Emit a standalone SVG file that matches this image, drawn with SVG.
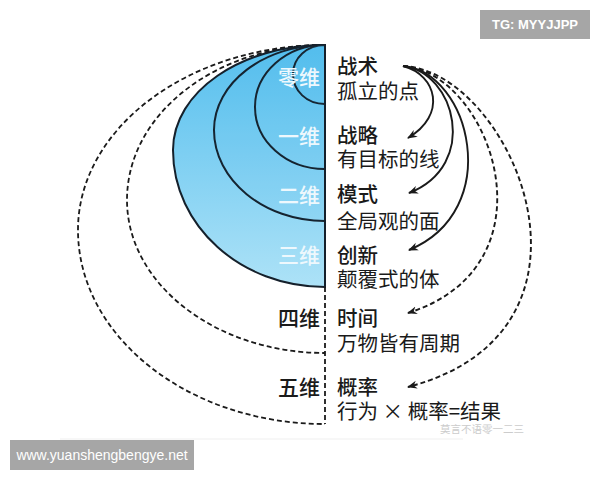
<svg xmlns="http://www.w3.org/2000/svg" width="600" height="480" viewBox="0 0 600 480">
<style>
.ln{fill:none;stroke:#15202b;stroke-width:2}
.dash{fill:none;stroke:#1a1a1a;stroke-width:1.8;stroke-dasharray:5 3}
.arr{fill:none;stroke:#1a1a1a;stroke-width:1.9}
.in{font-family:"Noto Sans CJK SC",sans-serif;font-size:21px;fill:#eef8fd;text-anchor:end;font-weight:500}
.out{font-family:"Noto Sans CJK SC",sans-serif;font-size:21px;fill:#1a1a1a;text-anchor:end;font-weight:500}
.t{font-family:"Noto Sans CJK SC",sans-serif;font-size:20.5px;fill:#1a1a1a;font-weight:500}
.d{font-family:"Noto Sans CJK SC",sans-serif;font-size:20.5px;fill:#1a1a1a;font-weight:400}
.wm{font-family:"Liberation Sans",sans-serif;fill:#ffffff}
</style>
<defs>
<linearGradient id="g" gradientUnits="userSpaceOnUse" x1="0" y1="45" x2="0" y2="287">
<stop offset="0" stop-color="#56bfee"/>
<stop offset="1" stop-color="#ade2f7"/>
</linearGradient>
<marker id="ah" viewBox="0 0 10 10" refX="9" refY="5" markerWidth="10" markerHeight="10" markerUnits="userSpaceOnUse" orient="auto">
<path d="M0,1 L10,5 L0,9 L3,5 Z" fill="#1a1a1a"/>
</marker>
</defs>
<rect width="600" height="480" fill="#ffffff"/>
<line x1="60" y1="439" x2="463" y2="439" stroke="#efefef" stroke-width="1"/>

<g id="dim5">
<path class="dash" d="M325,45 C189,45 78,128 78,230 C78,337 189,424 325,424"/>
<text class="out" x="320" y="395">五维</text>
</g>
<g id="dim4">
<path class="dash" d="M325,45 C216,45 127,114 127,200 C127,284 216,353 325,353"/>
<text class="out" x="320" y="326">四维</text>
</g>
<g id="dim3">
<path class="ln" style="fill:url(#g)" d="M325,45 C241,45 173,92 173,150 C173,226 241,287 325,287 Z"/>
<text class="in" x="320" y="263">三维</text>
</g>
<g id="dim2">
<path class="ln" style="fill:url(#g)" d="M325,45 C264,45 214,83 214,130 C214,180 264,221 325,221 Z"/>
<path d="M325,45 C264,45 214,83 214,130 C214,180 264,221 325,221 Z" fill="#3ab0e8" opacity="0.06"/>
<text class="in" x="320" y="203">二维</text>
</g>
<g id="dim1">
<path class="ln" style="fill:url(#g)" d="M325,45 C286,45 255,73 255,107 C255,141 286,169 325,169 Z"/>
<path d="M325,45 C286,45 255,73 255,107 C255,141 286,169 325,169 Z" fill="#3ab0e8" opacity="0.08"/>
<text class="in" x="320" y="144">一维</text>
</g>
<g id="dim0">
<path class="ln" style="fill:url(#g)" d="M325,45 C307,45 293,58 293,74 C293,91 307,104 325,104 Z"/>
<path d="M325,45 C307,45 293,58 293,74 C293,91 307,104 325,104 Z" fill="#3ab0e8" opacity="0.1"/>
<text class="in" x="320" y="85">零维</text>
</g>

<g id="axis">
<line x1="325" y1="44" x2="325" y2="287" stroke="#15202b" stroke-width="2"/>
<line x1="325" y1="287" x2="325" y2="424" stroke="#1a1a1a" stroke-width="1.8" stroke-dasharray="5 3"/>
</g>

<g id="n-tactic">
<text class="t" x="337" y="74">战术</text>
<text class="d" x="337" y="99">孤立的点</text>
</g>
<g id="n-strategy">
<text class="t" x="337" y="143">战略</text>
<text class="d" x="337" y="167">有目标的线</text>
</g>
<g id="n-mode">
<text class="t" x="337" y="202">模式</text>
<text class="d" x="337" y="229">全局观的面</text>
</g>
<g id="n-innovation">
<text class="t" x="337" y="263">创新</text>
<text class="d" x="337" y="287">颠覆式的体</text>
</g>
<g id="n-time">
<text class="t" x="337" y="326">时间</text>
<text class="d" x="337" y="351">万物皆有周期</text>
</g>
<g id="n-prob">
<text class="t" x="337" y="395">概率</text>
<text class="d" x="337" y="419">行为 × 概率=结果</text>
</g>

<g id="connectors">
<path class="arr" marker-end="url(#ah)" d="M403,66 C437,75 447,115 408,138"/>
<path class="arr" marker-end="url(#ah)" d="M403,66 C455,72 480,165 409,193"/>
<path class="arr" marker-end="url(#ah)" d="M403,66 C470,72 505,210 409,250"/>
<path class="arr" stroke-dasharray="5 3" marker-end="url(#ah)" d="M403,66 C490,72 560,265 408,313"/>
<path class="arr" stroke-dasharray="5 3" marker-end="url(#ah)" d="M403,66 C510,70 625,330 408,387"/>
</g>

<text x="440" y="433" font-family="Noto Sans CJK SC,sans-serif" font-size="10.5" fill="#cccccc">莫言不语零一二三</text>

<rect x="480" y="10" width="110" height="29" fill="#a6a6a6"/>
<text class="wm" x="535" y="29" font-size="13" font-weight="bold" text-anchor="middle">TG: MYYJJPP</text>
<rect x="10" y="440" width="184" height="30" fill="#a6a6a6"/>
<text class="wm" x="102" y="460" font-size="14" text-anchor="middle">www.yuanshengbengye.net</text>
</svg>
